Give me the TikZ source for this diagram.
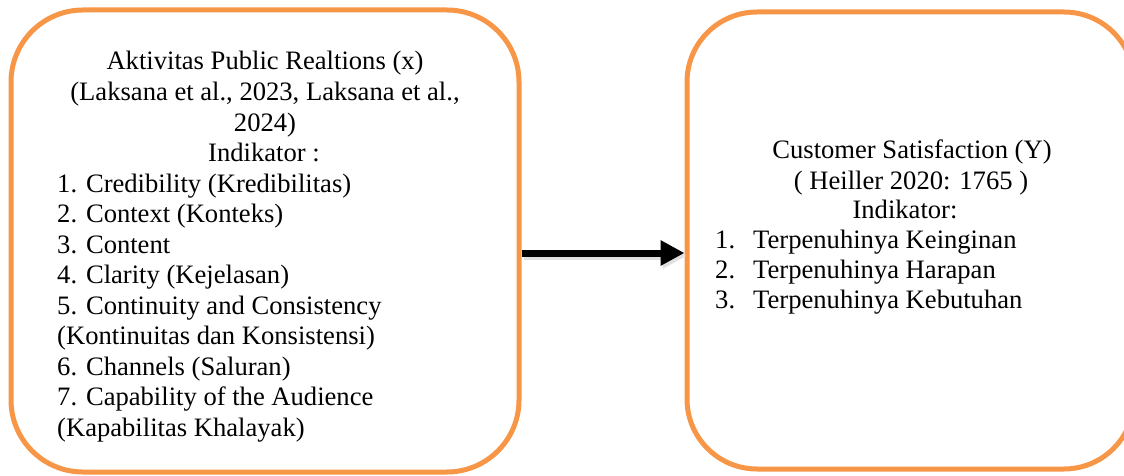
\documentclass[tikz,border=0pt]{standalone}
\usepackage{fontspec}
\setmainfont{Liberation Serif}
\usetikzlibrary{arrows.meta}
\definecolor{boxorange}{HTML}{F79646}
\tikzset{
  box/.style={draw=boxorange, line width=5pt, rounded corners=72pt, inner sep=0pt},
  txt/.style={inner sep=0pt, font=\fontsize{26.6}{30.6}\selectfont, anchor=base},
  ltxt/.style={txt, anchor=base west},
  conn/.style={line width=7pt, -{Triangle[length=24pt,width=24pt]}},
  connshadow/.style={line width=7pt, draw=black!12, -{Triangle[length=24pt,width=24pt]}, color=black!12}
}
\begin{document}
\begin{tikzpicture}[x=1pt,y=1pt]
\useasboundingbox (0,0) rectangle (1124,475);
\begin{scope}
\clip (0,0) rectangle (1124,475);
\node[box, minimum width=508pt, minimum height=462pt] (L) at (265,234) {};
\node[box, minimum width=447pt, minimum height=457pt, rounded corners=70pt] (R) at (910.5,234.5) {};
\end{scope}
% left text
\node[txt] (l1) at (265,405) {Aktivitas Public Realtions (x)};
\node[txt] (l2) at (265,374) {(Laksana et al., 2023, Laksana et al.,};
\node[txt] (l3) at (265,344) {2024)};
\node[txt] (l4) at (264,314) {Indikator :};
\node[ltxt] (l5) at (57,283) {1. Credibility (Kredibilitas)};
\node[ltxt] (l6) at (57,253) {2. Context (Konteks)};
\node[ltxt] (l7) at (57,222) {3. Content};
\node[ltxt] (l8) at (57,192) {4. Clarity (Kejelasan)};
\node[ltxt] (l9) at (57,161) {5. Continuity and Consistency};
\node[ltxt] (l10) at (57,131) {(Kontinuitas dan Konsistensi)};
\node[ltxt] (l11) at (57,100) {6. Channels (Saluran)};
\node[ltxt] (l12) at (57,70) {7. Capability of the Audience};
\node[ltxt] (l13) at (57,39) {(Kapabilitas Khalayak)};
% right text
\node[txt] (r1) at (912,317) {Customer Satisfaction (Y)};
\node[txt] (r2) at (911,286) {( Heiller 2020: 1765 )};
\node[txt] (r3) at (905,257) {Indikator:};
\node[ltxt] (r4n) at (715,227) {1.};
\node[ltxt] (r4) at (753,227) {Terpenuhinya Keinginan};
\node[ltxt] (r5n) at (715,197) {2.};
\node[ltxt] (r5) at (753,197) {Terpenuhinya Harapan};
\node[ltxt] (r6n) at (715,167) {3.};
\node[ltxt] (r6) at (753,167) {Terpenuhinya Kebutuhan};
% arrow
\coordinate (ay) at (0,222);
\draw[connshadow] ([shift={(2,-3)}]L.east |- ay) -- ([shift={(2,-3)}]R.west |- ay);
\draw[conn] (L.east |- ay) -- (R.west |- ay);
\end{tikzpicture}
\end{document}
